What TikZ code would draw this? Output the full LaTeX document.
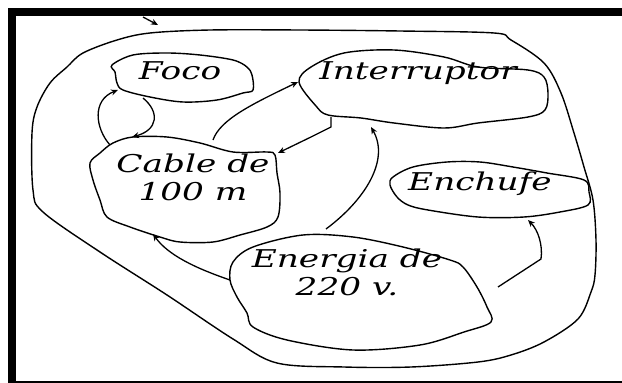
\documentclass[tikz,border=0pt]{standalone}
\usepackage{fontspec}
\newfontfamily\hand[FakeStretch=1.4]{DejaVu Serif}
\usetikzlibrary{arrows.meta}
\begin{document}
\begin{tikzpicture}[x=1pt,y=-1pt,
  blob/.style={draw, line width=1.4pt, smooth cycle, tension=0.55},
  conn/.style={draw, line width=1.3pt, -{Stealth[length=7pt,width=6pt]}},
  lbl/.style={font=\hand\itshape\fontsize{24.5}{28}\selectfont, inner sep=0pt, align=center}]
\useasboundingbox (0,0) rectangle (622,383);
% frame
\fill (8,8) rectangle (622,16);
\fill (8,8) rectangle (16,383);
\fill (8,380.5) rectangle (622,383);
% outer loop
\draw[blob] plot coordinates {(210,30) (300,30) (400,31) (494,33) (511,40) (544,63) (561,93) (574,133) (584,167) (593,200) (596,240) (595,275) (591,292) (578,319) (544,342) (511,355) (478,362) (411,367) (344,367) (277,363) (233,339) (167,295) (100,252) (43,212) (33,190) (32,133) (37,107) (50,83) (67,67) (83,53) (117,40) (150,33)};
% blobs
\draw[blob] plot coordinates {(112,65) (133,55) (167,53) (200,55) (233,60) (247,67) (252,75) (253,90) (243,93) (217,100) (183,102) (150,97) (123,90) (117,83) (115,72)};
\draw[blob] plot coordinates {(311,67) (344,53) (394,50) (444,57) (478,67) (528,70) (544,77) (548,93) (545,110) (528,117) (478,123) (444,128) (394,123) (361,118) (328,115) (316,106) (299,82)};
\draw[blob] plot coordinates {(113,143) (133,137) (167,137) (200,143) (233,152) (267,152) (275,155) (277,173) (280,193) (278,217) (267,227) (240,235) (213,242) (180,242) (160,237) (130,227) (107,217) (100,200) (93,180) (90,163) (100,153)};
\draw[blob] plot coordinates {(393,177) (413,167) (447,162) (480,162) (513,167) (547,173) (584,180) (589,192) (588,205) (560,212) (524,217) (478,217) (428,210) (408,205) (397,197) (390,185)};
\draw[blob] plot coordinates {(233,262) (253,247) (303,235) (353,237) (403,247) (450,260) (463,267) (477,287) (487,307) (491,322) (464,332) (420,345) (353,350) (287,340) (253,327) (247,313) (237,297) (230,280)};
% labels
\node[lbl] (foco) at (180,71) {Foco};
\node[lbl] (inter) at (418,73) {Interruptor};
\node[lbl] (cable) at (193,177) {Cable de\\100 m};
\node[lbl] (ench) at (480,184) {Enchufe};
\node[lbl] (ener) at (347,272) {Energia de\\220 v.};
% connector ends
\coordinate (t1) at (143,17);  \coordinate (t2) at (158,25);
\coordinate (cf1) at (110,145); \coordinate (cf2) at (118,90);
\coordinate (fc1) at (143,98);  \coordinate (fc2) at (132,137);
\coordinate (ci1) at (213,140); \coordinate (ci2) at (298,82);
\coordinate (ic1) at (331,117); \coordinate (ic2) at (278,153);
\coordinate (ei1) at (326,229); \coordinate (ei2) at (371,127);
\coordinate (ec1) at (230,280); \coordinate (ec2) at (153,234);
\coordinate (en1) at (498,287); \coordinate (en2) at (528,220);
% connectors
\draw[conn] (t1) -- (t2);
\draw[conn] (cf1) .. controls (95,128) and (92,100) .. (cf2);
\draw[conn] (fc1) .. controls (160,112) and (158,130) .. (fc2);
\draw[conn] (ci1) .. controls (220,120) and (250,105) .. (ci2);
\draw[conn] (ic1) -- (331,127) -- (311,137) -- (ic2);
\draw[conn] (ei1) .. controls (365,200) and (390,160) .. (ei2);
\draw[conn] (ec1) .. controls (195,268) and (168,255) .. (ec2);
\draw[conn] (en1) -- (541,259) .. controls (543,245) and (538,230) .. (en2);
\end{tikzpicture}
\end{document}
